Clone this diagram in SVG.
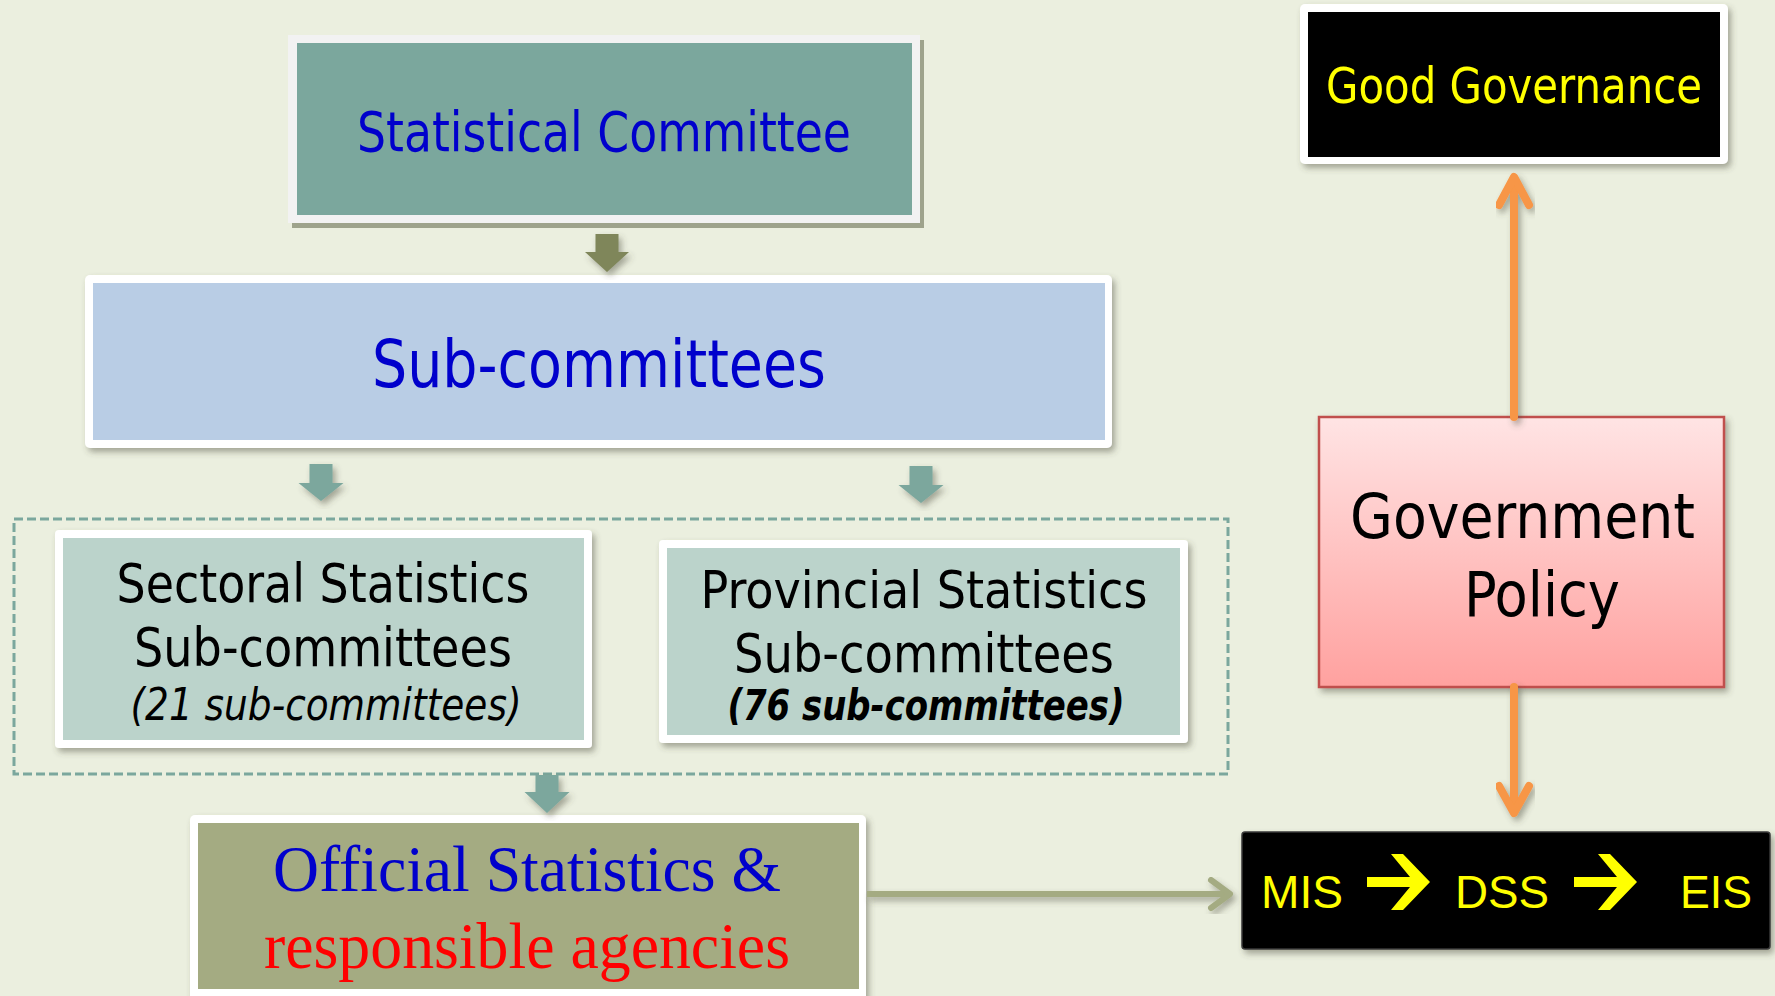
<svg xmlns="http://www.w3.org/2000/svg" width="1775" height="996" viewBox="0 0 1775 996">
<defs>
<filter id="sh" x="-10%" y="-10%" width="130%" height="130%">
<feDropShadow dx="3" dy="4" stdDeviation="3" flood-color="#4a4a3a" flood-opacity="0.45"/>
</filter>
<linearGradient id="pink" x1="0" y1="0" x2="0" y2="1">
<stop offset="0" stop-color="#FFE4E4"/>
<stop offset="1" stop-color="#FFA19F"/>
</linearGradient>
<style>
.tah{font-family:'DejaVu Sans Condensed','DejaVu Sans',sans-serif;}
.tim{font-family:'Liberation Serif','Times New Roman',serif;}
.ari{font-family:'Liberation Sans',Arial,sans-serif;}
.blue{fill:#0000CC;}
.frame{fill:#FFFFFF;}
.teal{fill:#7BA79D;}
.orange{stroke:#F79646;stroke-width:8;fill:none;stroke-linecap:round;stroke-linejoin:round;}
</style>
</defs>
<rect x="0" y="0" width="1775" height="996" fill="#EBEFDF"/>

<g id="statistical-committee">
<rect x="292" y="40" width="632" height="188" fill="#9EA38C"/>
<rect x="288" y="35" width="632" height="188" fill="#F2F2F2"/>
<rect x="297" y="43" width="615" height="172" class="teal"/>
<text x="604" y="151" class="tah blue" font-size="56" text-anchor="middle" textLength="494" lengthAdjust="spacingAndGlyphs">Statistical Committee</text>
</g>

<g id="sub-committees">
<rect x="85" y="275" width="1027" height="173" rx="5" class="frame" filter="url(#sh)"/>
<rect x="93" y="283" width="1012" height="157" fill="#B9CDE5"/>
<text x="599" y="387" class="tah blue" font-size="66" text-anchor="middle" textLength="454" lengthAdjust="spacingAndGlyphs">Sub-committees</text>
</g>

<g id="group-box">
<rect x="14" y="519" width="1214" height="255" fill="none" stroke="#7BA79D" stroke-width="3" stroke-dasharray="9 4"/>
</g>

<g id="sectoral">
<rect x="55" y="530" width="537" height="218" rx="4" class="frame" filter="url(#sh)"/>
<rect x="63" y="538" width="521" height="202" fill="#BBD3CB"/>
<text x="323" y="602" class="tah" font-size="53" text-anchor="middle" textLength="413" lengthAdjust="spacingAndGlyphs">Sectoral Statistics</text>
<text x="323" y="666" class="tah" font-size="53" text-anchor="middle" textLength="378" lengthAdjust="spacingAndGlyphs">Sub-committees</text>
<text x="326" y="720" class="tah" font-size="44" font-style="italic" text-anchor="middle" textLength="391" lengthAdjust="spacingAndGlyphs">(21 sub-committees)</text>
</g>

<g id="provincial">
<rect x="659" y="540" width="529" height="203" rx="4" class="frame" filter="url(#sh)"/>
<rect x="667" y="548" width="513" height="187" fill="#BBD3CB"/>
<text x="924" y="608" class="tah" font-size="52" text-anchor="middle" textLength="447" lengthAdjust="spacingAndGlyphs">Provincial Statistics</text>
<text x="924" y="672" class="tah" font-size="53" text-anchor="middle" textLength="380" lengthAdjust="spacingAndGlyphs">Sub-committees</text>
<text x="926" y="720" class="tah" font-size="42" font-style="italic" font-weight="bold" text-anchor="middle" textLength="397" lengthAdjust="spacingAndGlyphs">(76 sub-committees)</text>
</g>

<g id="official-statistics">
<rect x="190" y="815" width="676" height="190" rx="5" class="frame" filter="url(#sh)"/>
<rect x="198" y="823" width="661" height="166" fill="#A4AB82"/>
<text x="527" y="891" class="tim blue" font-size="66" text-anchor="middle" textLength="508" lengthAdjust="spacingAndGlyphs">Official Statistics &amp;</text>
<text x="527" y="968" class="tim" fill="#FF0000" font-size="66" text-anchor="middle" textLength="526" lengthAdjust="spacingAndGlyphs">responsible agencies</text>
</g>

<g id="good-governance">
<rect x="1300" y="4" width="428" height="160" rx="5" class="frame" filter="url(#sh)"/>
<rect x="1308" y="12" width="412" height="145" fill="#000000"/>
<text x="1514" y="103" class="tah" fill="#FFFF00" font-size="50" text-anchor="middle" textLength="376" lengthAdjust="spacingAndGlyphs">Good Governance</text>
</g>

<g id="government-policy">
<rect x="1319" y="417" width="405" height="270" fill="url(#pink)" stroke="#C0504D" stroke-width="2.5" filter="url(#sh)"/>
<text x="1350" y="538" class="tah" font-size="62" textLength="345" lengthAdjust="spacingAndGlyphs">Government</text>
<text x="1464" y="616" class="tah" font-size="62" textLength="156" lengthAdjust="spacingAndGlyphs">Policy</text>
</g>

<g id="mis-dss-eis">
<rect x="1242" y="832" width="528" height="117" rx="3" fill="#000000" stroke="#3a3a3a" stroke-width="1.5" filter="url(#sh)"/>
<text x="1261" y="908" class="ari" fill="#FFFF00" font-size="47" textLength="82" lengthAdjust="spacingAndGlyphs">MIS</text>
<polygon points="1367,877 1410,877 1391,854 1403,854 1430,882 1403,910 1391,910 1410,887 1367,887" fill="#FFFF00"/>
<text x="1455" y="908" class="ari" fill="#FFFF00" font-size="47" textLength="94" lengthAdjust="spacingAndGlyphs">DSS</text>
<polygon points="1574,877 1617,877 1598,854 1610,854 1637,882 1610,910 1598,910 1617,887 1574,887" fill="#FFFF00"/>
<text x="1680" y="908" class="ari" fill="#FFFF00" font-size="47" textLength="72" lengthAdjust="spacingAndGlyphs">EIS</text>
</g>

<g id="connectors">
<polygon points="595.5,234 618.5,234 618.5,252 629,252 607,272 585,252 595.5,252" fill="#7F865A" filter="url(#sh)"/>
<polygon points="309.5,464 332.5,464 332.5,483 343.5,483 321,501 298.5,483 309.5,483" class="teal" filter="url(#sh)"/>
<polygon points="909.5,466 932.5,466 932.5,485 943.5,485 921,503 898.5,485 909.5,485" class="teal" filter="url(#sh)"/>
<polygon points="535.5,775 558.5,775 558.5,792 569.5,792 547,813 524.5,792 535.5,792" class="teal" filter="url(#sh)"/>
<g filter="url(#sh)">
<line x1="867" y1="894" x2="1228" y2="894" stroke="#A4AB82" stroke-width="6"/>
<polyline points="1211,880 1230,894 1211,908" fill="none" stroke="#A4AB82" stroke-width="6" stroke-linecap="round" stroke-linejoin="round"/>
</g>
<g filter="url(#sh)">
<line x1="1514" y1="417" x2="1514" y2="182" class="orange"/>
<polyline points="1499,205 1514,177 1529,205" class="orange"/>
<line x1="1514" y1="687" x2="1514" y2="810" class="orange"/>
<polyline points="1499,786 1514,813 1529,786" class="orange"/>
</g>
</g>
</svg>
